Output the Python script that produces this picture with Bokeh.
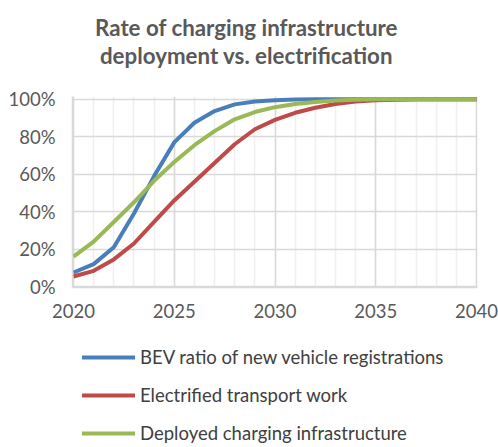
from bokeh.plotting import figure
from bokeh.layouts import column
from bokeh.models import (Label, Legend, LegendItem, FixedTicker, Range1d,
                          PrintfTickFormatter)
from bokeh.embed import file_html
from bokeh.resources import INLINE

years = list(range(2020, 2041))
bev_ratio = [7.5, 12, 21, 39, 59, 77, 87.5, 93.7, 97.3, 98.8, 99.5, 99.9,
             100, 100, 100, 100, 100, 100, 100, 100, 100]
transport_work = [5.4, 8.4, 14.5, 23, 34.5, 46, 56, 66, 76, 84, 89, 92.8,
                  95.5, 97.5, 98.8, 99.5, 99.8, 100, 100, 100, 100]
charging_infra = [16, 24, 34.5, 45, 56.5, 66.5, 75.5, 83, 89.3, 93.2, 95.8,
                  97.5, 98.6, 99.3, 99.7, 100, 100, 100, 100, 100, 100]

series_names = ["BEV ratio of new vehicle registrations",
                "Electrified transport work",
                "Deployed charging infrastructure"]
series_colors = ["#4A7EBB", "#BE4B48", "#98B954"]
title_lines = ["Rate of charging infrastructure",
               "deployment vs. electrification"]

x_major = [2020, 2025, 2030, 2035, 2040]
y_major = [0, 20, 40, 60, 80, 100]

FONT = "Lato"
TXT = "#595959"
W = 498
BL, BR = 72, 21   # left / right borders shared by all three blocks


def bare(height):
    f = figure(width=W, height=height, output_backend="svg",
               toolbar_location=None, x_axis_location=None,
               y_axis_location=None, min_border_left=BL, min_border_right=BR,
               min_border_top=0, min_border_bottom=0, outline_line_color=None,
               x_range=Range1d(0, 1), y_range=Range1d(0, 1))
    f.grid.visible = False
    return f


# ---- title block ----
ftitle = bare(86)
for txt, ybase in zip(title_lines, [59.3, 31]):
    ftitle.add_layout(Label(x=174, y=ybase, x_units="screen", y_units="screen",
                            text=txt, text_align="center",
                            text_baseline="alphabetic", text_font=FONT,
                            text_font_style="bold", text_font_size="22.3px",
                            text_color=TXT))

# ---- chart ----
p = figure(width=W, height=242, output_backend="svg", toolbar_location=None,
           x_range=Range1d(2019.95, 2040.05), y_range=Range1d(-0.5, 101.5),
           min_border_left=BL, min_border_right=BR, min_border_top=10,
           min_border_bottom=41, outline_line_color=None)

renderers = []
for data, col in zip([bev_ratio, transport_work, charging_infra], series_colors):
    r = p.line(years, data, line_color=col, line_width=4, line_join="round")
    renderers.append(r)

p.xaxis.ticker = FixedTicker(ticks=x_major, minor_ticks=years)
p.yaxis.ticker = FixedTicker(ticks=y_major)
p.yaxis.formatter = PrintfTickFormatter(format="%d%%")
for ax in (p.xaxis, p.yaxis):
    ax.major_tick_line_color = None
    ax.minor_tick_line_color = None
    ax.major_tick_out = 0
    ax.major_tick_in = 0
    ax.axis_line_color = "#D9D9D9"
    ax.axis_line_width = 1.5
    ax.major_label_text_font = FONT
    ax.major_label_text_font_size = "18.5px"
    ax.major_label_text_color = TXT
p.yaxis.major_label_standoff = 17
p.xaxis.major_label_standoff = 12

p.xgrid.grid_line_color = "#D9D9D9"
p.xgrid.grid_line_width = 1.5
p.xgrid.minor_grid_line_color = "#EFEFEF"
p.xgrid.minor_grid_line_width = 1.5
p.ygrid.grid_line_color = "#D9D9D9"
p.ygrid.grid_line_width = 1.5

# ---- legend block (proxy renderers hold one point outside the view) ----
fleg = bare(119)
leg_renderers = [fleg.line(x=[-1], y=[-1], line_color=c, line_width=4,
                           line_cap="round")
                 for c in series_colors]
legend = Legend(items=[LegendItem(label=n, renderers=[r])
                       for n, r in zip(series_names, leg_renderers)],
                location=(10, 3), orientation="vertical",
                glyph_width=53, glyph_height=22, label_height=22,
                label_standoff=5, spacing=16, padding=0, margin=0,
                border_line_color=None, background_fill_alpha=0,
                label_text_font=FONT, label_text_font_size="18.5px",
                label_text_color="#404040")
fleg.add_layout(legend, "center")

layout = column(ftitle, p, fleg, spacing=0)
open("out.html", "w").write(file_html(layout, INLINE))
